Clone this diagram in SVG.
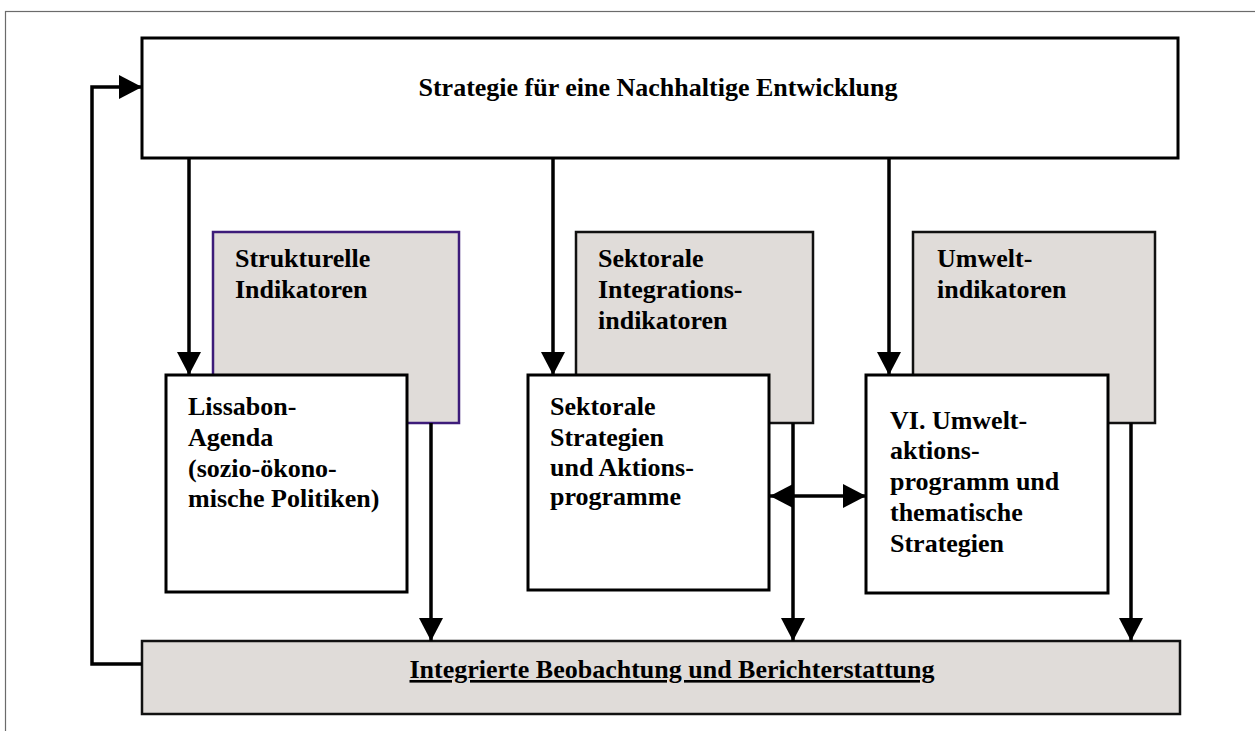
<svg xmlns="http://www.w3.org/2000/svg" width="1255" height="731" viewBox="0 0 1255 731">
<style>
.frame{fill:none;stroke:#6b6b6b;stroke-width:1.2}
.wbox{fill:#ffffff;stroke:#000;stroke-width:3}
.gbox{fill:#e0dcd9;stroke:#111;stroke-width:2.5}
.pbox{fill:#e0dcd9;stroke:#3d1c7a;stroke-width:2.5}
.t{font-family:"Liberation Serif","Times New Roman",serif;font-weight:bold;font-size:26px;fill:#000}
.conn{fill:none;stroke:#000;stroke-width:3.5}
</style>
<defs>
<marker id="ah" markerUnits="userSpaceOnUse" markerWidth="23" markerHeight="24" refX="23" refY="12" orient="auto-start-reverse">
<path d="M0,0 L23,12 L0,24 Z" fill="#000"/>
</marker>
</defs>
<rect class="frame" x="5.5" y="11.5" width="1262" height="730"/>
<g id="top">
<rect class="wbox" x="142" y="38" width="1036" height="120"/>
<text class="t" x="658" y="96" text-anchor="middle">Strategie für eine Nachhaltige Entwicklung</text>
</g>
<g id="strukturelle">
<rect class="pbox" x="213" y="232" width="246" height="191"/>
<text class="t" x="235" y="267">Strukturelle</text>
<text class="t" x="235" y="298">Indikatoren</text>
</g>
<g id="sektorale-ind">
<rect class="gbox" x="576" y="232" width="237" height="191"/>
<text class="t" x="598" y="267">Sektorale</text>
<text class="t" x="598" y="298">Integrations-</text>
<text class="t" x="598" y="329">indikatoren</text>
</g>
<g id="umwelt-ind">
<rect class="gbox" x="913" y="232" width="242" height="191"/>
<text class="t" x="937" y="267">Umwelt-</text>
<text class="t" x="937" y="298">indikatoren</text>
</g>
<g id="lissabon">
<rect class="wbox" x="166" y="375" width="241" height="217"/>
<text class="t" x="188" y="415">Lissabon-</text>
<text class="t" x="188" y="446">Agenda</text>
<text class="t" x="188" y="477">(sozio-ökono-</text>
<text class="t" x="188" y="507">mische Politiken)</text>
</g>
<g id="sektorale-str">
<rect class="wbox" x="528" y="375" width="241" height="215"/>
<text class="t" x="550" y="415">Sektorale</text>
<text class="t" x="550" y="446">Strategien</text>
<text class="t" x="550" y="476">und Aktions-</text>
<text class="t" x="550" y="505">programme</text>
</g>
<g id="umweltprogramm">
<rect class="wbox" x="866" y="375" width="242" height="218"/>
<text class="t" x="890" y="429">VI. Umwelt-</text>
<text class="t" x="890" y="459">aktions-</text>
<text class="t" x="890" y="490">programm und</text>
<text class="t" x="890" y="521">thematische</text>
<text class="t" x="890" y="552">Strategien</text>
</g>
<g id="bottom">
<rect class="gbox" x="142" y="641" width="1038" height="73" stroke-width="3"/>
<text class="t" x="672" y="678" text-anchor="middle" text-decoration="underline">Integrierte Beobachtung und Berichterstattung</text>
</g>
<g id="connectors">
<line class="conn" x1="189" y1="158" x2="189" y2="375" marker-end="url(#ah)"/>
<line class="conn" x1="553" y1="158" x2="553" y2="375" marker-end="url(#ah)"/>
<line class="conn" x1="889" y1="158" x2="889" y2="375" marker-end="url(#ah)"/>
<line class="conn" x1="431" y1="423" x2="431" y2="641" marker-end="url(#ah)"/>
<line class="conn" x1="793" y1="423" x2="793" y2="641" marker-end="url(#ah)"/>
<line class="conn" x1="1131" y1="423" x2="1131" y2="641" marker-end="url(#ah)"/>
<line class="conn" x1="770" y1="496" x2="866" y2="496" marker-start="url(#ah)" marker-end="url(#ah)"/>
<polyline class="conn" points="142,664 92,664 92,87 142,87" marker-end="url(#ah)"/>
</g>
</svg>
